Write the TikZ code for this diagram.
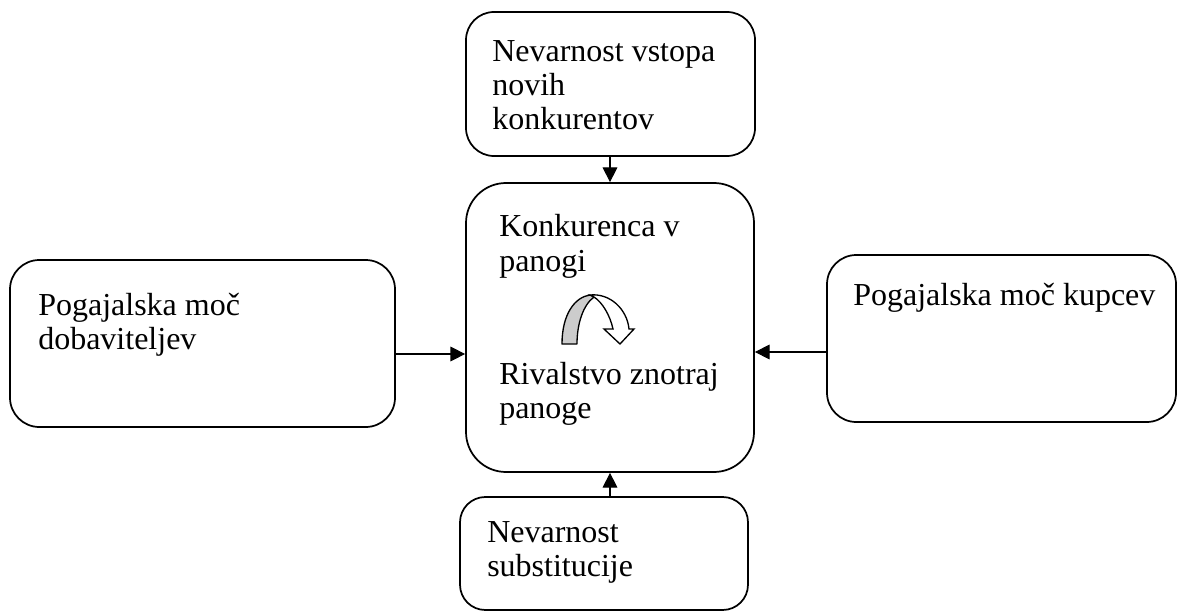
\documentclass[tikz,border=0pt]{standalone}
\usepackage{fontspec}
\setmainfont{Liberation Serif}
\usepackage{tikz}
\usetikzlibrary{arrows.meta, calc}
\definecolor{figG}{RGB}{204,204,204}
\tikzset{forcebox/.style={draw, line width=1.3pt, inner sep=0pt},
  forcetxt/.style={anchor=base west, align=left, inner sep=0pt,
    font=\fontsize{24}{25.5}\selectfont},
  forcearr/.style={line width=0.8pt, -{Triangle[length=11pt, width=11pt]}}}
\begin{document}
\begin{tikzpicture}[x=0.75pt, y=-0.75pt]
\useasboundingbox (0,0) rectangle (1178,613);
% boxes
\node[forcebox, rounded corners=21pt, minimum width=216.75pt, minimum height=108pt] (vstop) at (610.5,84) {};
\node[forcebox, rounded corners=30pt, minimum width=216pt, minimum height=216.75pt] (panoga) at (610,327.5) {};
\node[forcebox, rounded corners=19pt, minimum width=216pt, minimum height=84.75pt] (subst) at (604,553.5) {};
\node[forcebox, rounded corners=22pt, minimum width=288.75pt, minimum height=125.25pt] (dobav) at (202.5,343.5) {};
\node[forcebox, rounded corners=22pt, minimum width=261.75pt, minimum height=125.25pt] (kupci) at (1001.5,338.5) {};
% texts (base = last line)
\node[forcetxt] (tvstop) at (492,130) {Nevarnost vstopa\\novih\\konkurentov};
\node[forcetxt] (tkonk) at (499,271) {Konkurenca v\\panogi};
\node[forcetxt] (trival) at (499,418) {Rivalstvo znotraj\\panoge};
\node[forcetxt] (tsubst) at (487,576) {Nevarnost\\substitucije};
\node[forcetxt] (tdobav) at (38,349) {Pogajalska moč\\dobaviteljev};
\node[forcetxt] (tkupci) at (853,305) {Pogajalska moč kupcev};
% arrows
\draw[forcearr] (vstop.south -| 610,0) -- (panoga.north -| 610,0);
\draw[forcearr] (subst.north -| 610,0) -- (panoga.south -| 610,0);
\draw[forcearr] (dobav.east |- 0,354) -- (panoga.west |- 0,354);
\draw[forcearr] (kupci.west |- 0,352) -- (panoga.east |- 0,352);
% rivalry arrow
\draw[line width=1pt, fill=figG, line join=round]
  (562,344) .. controls (562,314) and (575,297) .. (590,295) -- (594,297)
  .. controls (583,305) and (577,324) .. (577,344) -- cycle;
\draw[line width=1pt, fill=white, line join=miter]
  (590,295) .. controls (610,293) and (627,309) .. (629,329) -- (634,329) -- (620,344)
  -- (604,329) -- (613,329) .. controls (610,315) and (602,302) .. (594,297) -- cycle;
\end{tikzpicture}
\end{document}
